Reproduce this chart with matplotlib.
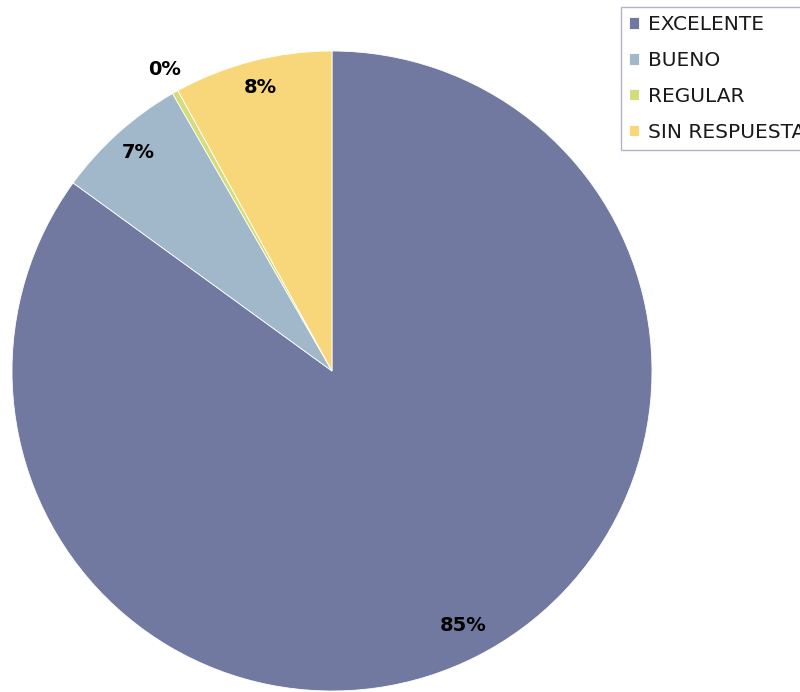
import numpy as np
import matplotlib
matplotlib.use("Agg")
import matplotlib.pyplot as plt

categories = ["EXCELENTE", "BUENO", "REGULAR", "SIN RESPUESTA"]
values = [85.0, 6.7, 0.3, 8.0]
pct_labels = ["85%", "7%", "0%", "8%"]
colors = ["#7179A0", "#A1B8CB", "#D4DC7C", "#F8D77A"]

fig = plt.figure(figsize=(8, 6.92), dpi=100)
ax = fig.add_axes([12/800, 1/692, 640/800, 640/692])
wedges, _ = ax.pie(values, colors=colors, startangle=90, counterclock=False,
                   radius=1.0, wedgeprops=dict(linewidth=0.6, edgecolor="white"))
ax.set_xlim(-1, 1)
ax.set_ylim(-1, 1)
ax.set_aspect("equal")
ax.axis("off")

for w, lab, v in zip(wedges, pct_labels, values):
    ang = np.deg2rad((w.theta1 + w.theta2) / 2)
    d = 1.07 if v < 1 else 0.905
    ax.text(d*np.cos(ang), d*np.sin(ang) + 0.01, lab, ha="center", va="center",
            fontsize=14, fontweight="bold", color="black")

leg = fig.legend(wedges, categories, loc="upper left",
                 bbox_to_anchor=(621/800, 1.0 - 7/692), frameon=True,
                 fontsize=14.5, handlelength=0.5, handleheight=0.5,
                 handletextpad=0.45, labelspacing=0.84, borderpad=0.4,
                 fancybox=False, borderaxespad=0)
leg.get_frame().set_edgecolor("#9AA0B8")
leg.get_frame().set_linewidth(1.0)
for t in leg.get_texts():
    t.set_color("#1a1a1a")

fig.savefig("out.png", dpi=100)
